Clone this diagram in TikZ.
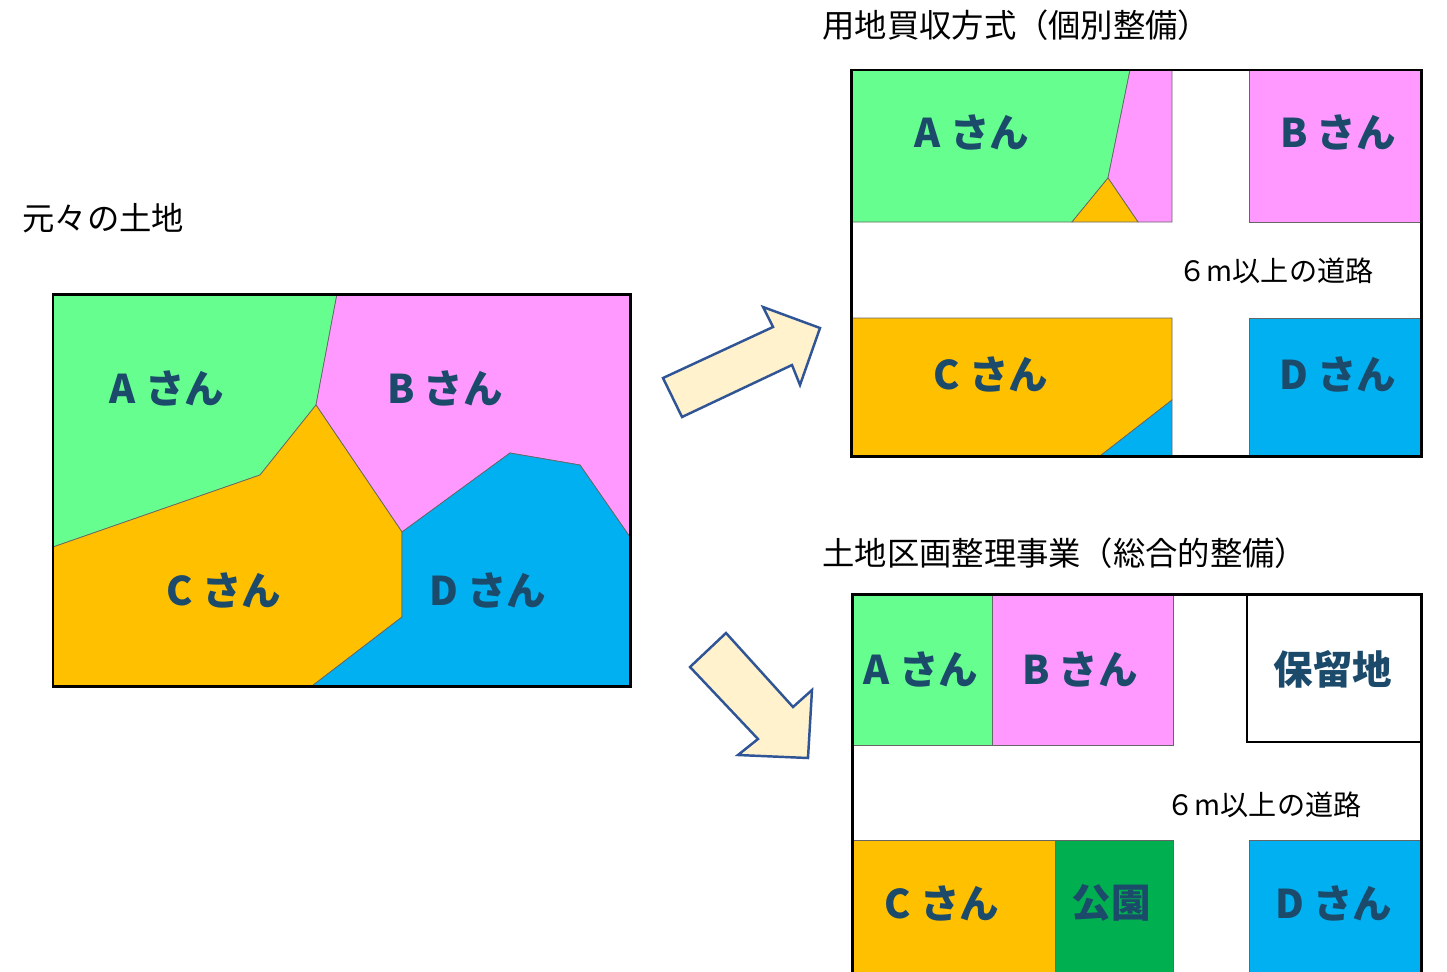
\documentclass[tikz,border=0pt]{standalone}
\usepackage{fontspec}
\setmainfont{Noto Sans CJK JP}
\definecolor{cA}{HTML}{66FF8F}
\definecolor{cB}{HTML}{FF99FF}
\definecolor{cC}{HTML}{FFC000}
\definecolor{cD}{HTML}{00B0F0}
\definecolor{cP}{HTML}{00B050}
\definecolor{lbl}{HTML}{1B4A6B}
\definecolor{arrF}{HTML}{FFF2CC}
\definecolor{arrD}{HTML}{2F5597}
\begin{document}
\begin{tikzpicture}[x=0.02cm,y=-0.02cm,
  lot/.style={draw=black!60,line width=0.4pt},
  frame/.style={draw=black,line width=1.7pt},
  owner/.style={font=\fontsize{22.5}{26}\selectfont\bfseries,text=lbl,inner sep=0pt},
  titletext/.style={font=\fontsize{18.4}{21}\selectfont,anchor=west,inner sep=0pt},
  roadtext/.style={font=\fontsize{16}{19}\selectfont,inner sep=0pt},
  bigarrow/.style={fill=arrF,draw=arrD,line width=1.4pt,line join=miter}]
\useasboundingbox (0,0) rectangle (1447,971);
\fill[white] (0,0) rectangle (1447,971);

% ---------- titles ----------
\node[titletext] (t1) at (22,218) {元々の土地};
\node[titletext] (t2) at (822,25) {用地買収方式（個別整備）};
\node[titletext] (t3) at (822,553) {土地区画整理事業（総合的整備）};

% ---------- original land ----------
\filldraw[lot,fill=cA] (53,294) -- (337,294) -- (316,405) -- (260,475) -- (53,547) -- cycle;
\filldraw[lot,fill=cB] (337,294) -- (630,294) -- (630,537) -- (580,465) -- (510,453) -- (402,532) -- (316,405) -- cycle;
\filldraw[lot,fill=cC] (53,547) -- (260,475) -- (316,405) -- (402,532) -- (402,617) -- (312,686) -- (53,686) -- cycle;
\filldraw[lot,fill=cD] (402,532) -- (510,453) -- (580,465) -- (630,537) -- (630,686) -- (312,686) -- (402,617) -- cycle;
\draw[frame] (53,294) rectangle (630,686);
\node[owner] (oA) at (167,388) {A さん};
\node[owner] (oB) at (445,388) {B さん};
\node[owner] (oC) at (224,590) {C さん};
\node[owner] (oD) at (488,590) {D さん};

% ---------- purchase method ----------
\filldraw[lot,fill=cA] (851,70) -- (1130,70) -- (1108,178) -- (1072,222) -- (851,222) -- cycle;
\filldraw[lot,fill=cB] (1130,70) -- (1172,70) -- (1172,222) -- (1138,222) -- (1108,178) -- cycle;
\filldraw[lot,fill=cC] (1108,178) -- (1138,222) -- (1072,222) -- cycle;
\filldraw[lot,fill=cB] (1249,70) rectangle (1421,222);
\filldraw[lot,fill=cC] (851,318) -- (1172,318) -- (1172,400) -- (1100,456) -- (851,456) -- cycle;
\filldraw[lot,fill=cD] (1172,400) -- (1172,456) -- (1100,456) -- cycle;
\filldraw[lot,fill=cD] (1249,318) rectangle (1421,456);
\draw[frame] (851,70) rectangle (1421,456);
\node[owner] (pA) at (972,132) {A さん};
\node[owner] (pB) at (1338,132) {B さん};
\node[owner] (pC) at (991,374) {C さん};
\node[owner] (pD) at (1338,374) {D さん};
\node[roadtext] (pR) at (1276,271) {６m以上の道路};

% ---------- land readjustment ----------
\filldraw[lot,fill=cA] (853,595) rectangle (992,745);
\filldraw[lot,fill=cB] (992,595) rectangle (1173,745);
\filldraw[lot,fill=cC] (853,840) rectangle (1055,975);
\filldraw[lot,fill=cP] (1055,840) rectangle (1173,975);
\filldraw[lot,fill=cD] (1249,840) rectangle (1421,975);
\draw[black,line width=1pt] (1247,595) -- (1247,742) -- (1421,742);
\draw[frame] (852,975) -- (852,594) -- (1421,594) -- (1421,975);
\node[owner] (rA) at (921,669) {A さん};
\node[owner] (rB) at (1080,669) {B さん};
\node[owner] (rH) at (1333,669) {保留地};
\node[owner] (rC) at (942,903) {C さん};
\node[owner] (rP) at (1111,903) {公園};
\node[owner] (rD) at (1334,903) {D さん};
\node[roadtext] (rR) at (1264,805) {６m以上の道路};

% ---------- block arrows ----------
\filldraw[bigarrow] (663,378) -- (773,327) -- (763,307) -- (820,328) -- (800,385) -- (792,365) -- (682,417) -- cycle;
\filldraw[bigarrow] (726,633) -- (793,707) -- (812,690) -- (808,758) -- (738,755) -- (758,739) -- (690,667) -- cycle;
\end{tikzpicture}
\end{document}
